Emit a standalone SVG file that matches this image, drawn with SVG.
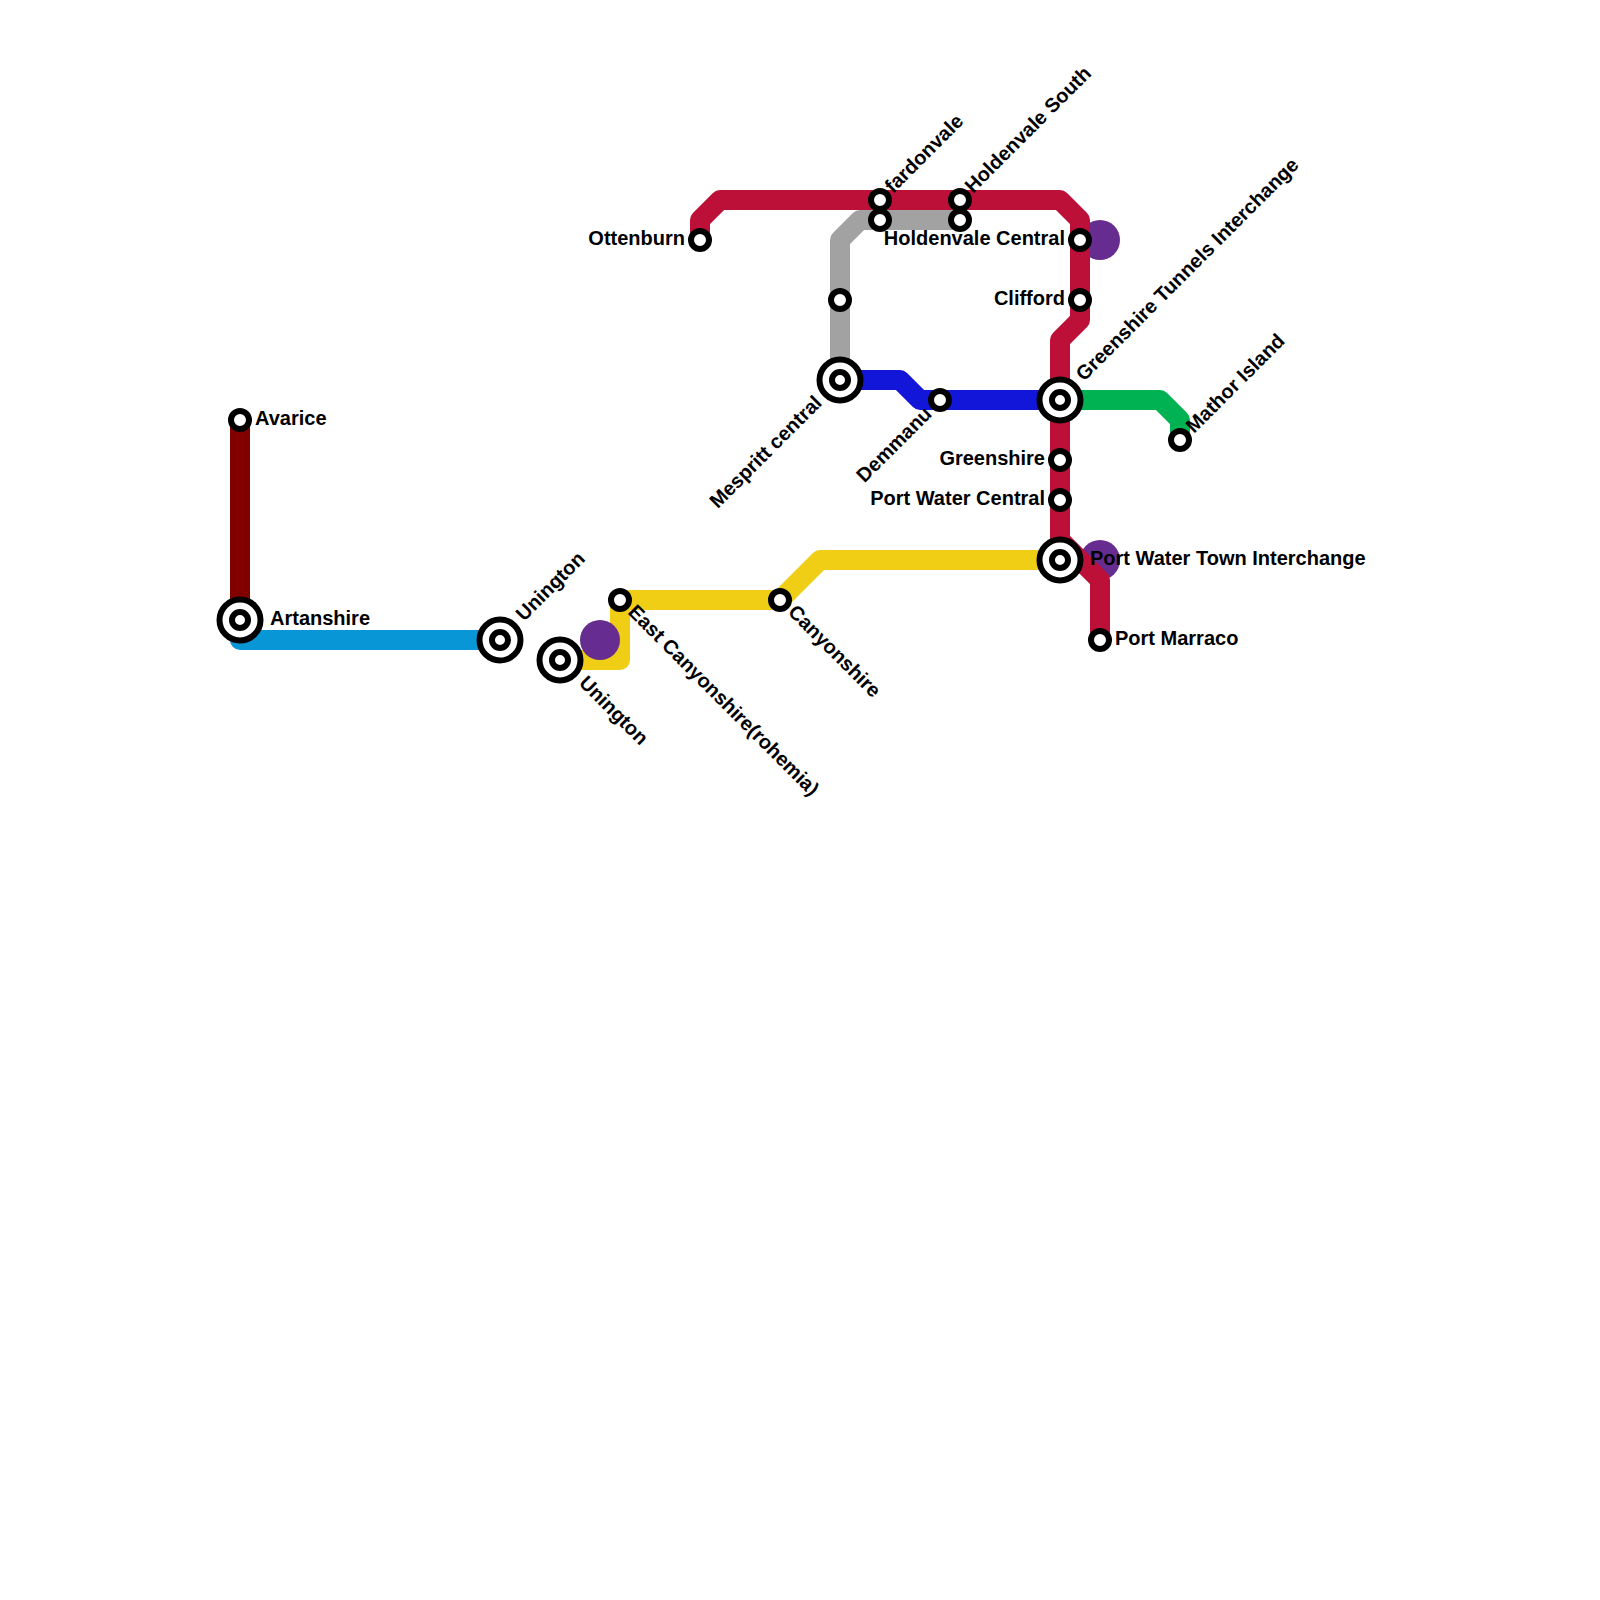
<svg xmlns="http://www.w3.org/2000/svg" width="1600" height="1600" viewBox="0 0 1600 1600">
<style>
.l{fill:none;stroke-width:20;stroke-linejoin:round;stroke-linecap:round}
.s{fill:#fff;stroke:#000;stroke-width:6}
.o{fill:#fff;stroke:#000;stroke-width:6}
.t{font-family:"Liberation Sans",Arial,sans-serif;font-weight:700;font-size:20px;fill:#000}
.e{text-anchor:end}
.p{fill:#662c90}
</style>
<rect width="1600" height="1600" fill="#fff"/>
<g id="connectors">
<circle class="p" cx="1100" cy="240" r="20"/>
<circle class="p" cx="1100" cy="560" r="20"/>
<path class="l" stroke="#800000" d="M240 420V620"/>
<path class="l" stroke="#0896d7" d="M240 620V640H500"/>
<path class="l" stroke="#f0ce15" d="M560 660H620V600H780L820 560H1060"/>
<circle class="p" cx="600" cy="640" r="20"/>
<path class="l" stroke="#a2a2a2" d="M840 380V240L860 220H960"/>
<path class="l" stroke="#1116d9" d="M840 380H900L920 400H1060"/>
<path class="l" stroke="#00b251" d="M1060 400H1160L1180 420V440"/>
<path class="l" stroke="#bd1038" d="M700 240V220L720 200H1060L1080 220V320L1060 340V540L1100 580V640"/>
</g>
<g id="n-avarice"><circle class="s" cx="240" cy="420" r="9"/><text class="t" x="255" y="425">Avarice</text></g>
<g id="n-artanshire"><circle class="o" cx="240" cy="620" r="20.5"/><circle class="s" cx="240" cy="620" r="8"/><text class="t" x="270" y="625">Artanshire</text></g>
<g id="n-unington-1"><circle class="o" cx="500" cy="640" r="20.5"/><circle class="s" cx="500" cy="640" r="8"/><text class="t" transform="translate(524 622) rotate(-45)">Unington</text></g>
<g id="n-unington-2"><circle class="o" cx="560" cy="660" r="20.5"/><circle class="s" cx="560" cy="660" r="8"/><text class="t" transform="translate(578 684) rotate(45)">Unington</text></g>
<g id="n-east-canyonshire"><circle class="s" cx="620" cy="600" r="9"/><text class="t" transform="translate(627 613) rotate(45)">East Canyonshire(rohemia)</text></g>
<g id="n-canyonshire"><circle class="s" cx="780" cy="600" r="9"/><text class="t" transform="translate(787 613) rotate(45)">Canyonshire</text></g>
<g id="n-ottenburn"><circle class="s" cx="700" cy="240" r="9"/><text class="t e" x="685" y="245">Ottenburn</text></g>
<g id="n-fardonvale"><circle class="s" cx="880" cy="200" r="9"/><text class="t" transform="translate(893 194) rotate(-45)">fardonvale</text></g>
<g id="n-grey-1"><circle class="s" cx="880" cy="220" r="9"/></g>
<g id="n-holdenvale-south"><circle class="s" cx="960" cy="200" r="9"/><text class="t" transform="translate(973 194) rotate(-45)">Holdenvale South</text></g>
<g id="n-grey-2"><circle class="s" cx="960" cy="220" r="9"/></g>
<g id="n-grey-3"><circle class="s" cx="840" cy="300" r="9"/></g>
<g id="n-mespritt"><circle class="o" cx="840" cy="380" r="20.5"/><circle class="s" cx="840" cy="380" r="8"/><text class="t e" transform="translate(823 404) rotate(-45)">Mespritt central</text></g>
<g id="n-demmanu"><circle class="s" cx="940" cy="400" r="9"/><text class="t e" transform="translate(933 415) rotate(-45)">Demmanu</text></g>
<g id="n-holdenvale-central"><circle class="s" cx="1080" cy="240" r="9"/><text class="t e" x="1065" y="245">Holdenvale Central</text></g>
<g id="n-clifford"><circle class="s" cx="1080" cy="300" r="9"/><text class="t e" x="1065" y="305">Clifford</text></g>
<g id="n-greenshire-tunnels"><circle class="o" cx="1060" cy="400" r="20.5"/><circle class="s" cx="1060" cy="400" r="8"/><text class="t" transform="translate(1084 382) rotate(-45)">Greenshire Tunnels Interchange</text></g>
<g id="n-mathor"><circle class="s" cx="1180" cy="440" r="9"/><text class="t" transform="translate(1194 434) rotate(-45)">Mathor Island</text></g>
<g id="n-greenshire"><circle class="s" cx="1060" cy="460" r="9"/><text class="t e" x="1045" y="465">Greenshire</text></g>
<g id="n-port-water-central"><circle class="s" cx="1060" cy="500" r="9"/><text class="t e" x="1045" y="505">Port Water Central</text></g>
<g id="n-port-water-town"><circle class="o" cx="1060" cy="560" r="20.5"/><circle class="s" cx="1060" cy="560" r="8"/><text class="t" x="1090" y="565">Port Water Town Interchange</text></g>
<g id="n-port-marraco"><circle class="s" cx="1100" cy="640" r="9"/><text class="t" x="1115" y="645">Port Marraco</text></g>
</svg>
